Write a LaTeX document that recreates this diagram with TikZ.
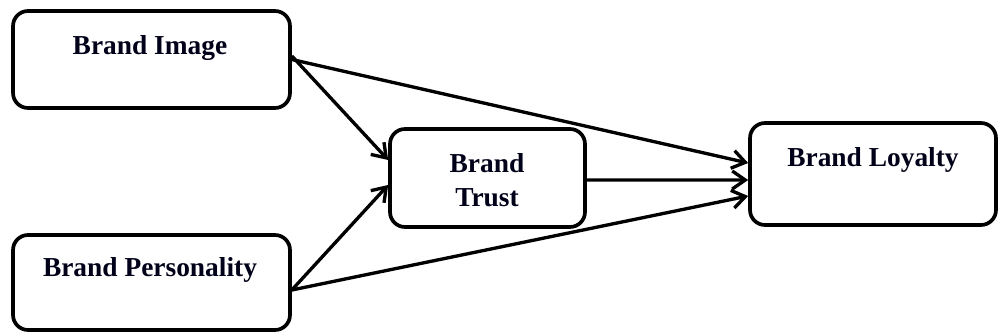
\documentclass[tikz,border=0pt]{standalone}
\usepackage{fontspec}
\setmainfont{Liberation Serif}
\usetikzlibrary{arrows.meta}
\tikzset{
  box/.style={draw=black, line width=2.1pt, rounded corners=0.3cm, fill=white, inner sep=0pt},
  lbl/.style={font=\fontsize{15.6pt}{20.5pt}\selectfont\bfseries, text=black!90!blue, inner sep=0pt, align=center},
  conn/.style={line width=1.9pt, -{Straight Barb[length=0.26cm, width=0.36cm, line width=1.9pt]}}
}
\begin{document}
\begin{tikzpicture}[x=0.02cm, y=-0.02cm]
\useasboundingbox (0,0) rectangle (998,334);
\node[box, minimum width=5.54cm, minimum height=1.94cm] (img) at (151.5,59.5) {};
\node[lbl] (imgt) at (150,48) {Brand Image};
\node[box, minimum width=5.54cm, minimum height=1.9cm] (per) at (151.5,282.5) {};
\node[lbl] (pert) at (150,270) {Brand Personality};
\node[box, minimum width=3.9cm, minimum height=1.96cm] (tru) at (487.5,178) {};
\node[lbl] (trut) at (487,180) {Brand\\[-1pt]Trust};
\node[box, minimum width=4.92cm, minimum height=2.04cm] (loy) at (873,174) {};
\node[lbl] (loyt) at (873,160) {Brand Loyalty};
% connectors
\draw[conn] ([yshift=2pt]img.east) -- ([yshift=3.6mm]tru.west);
\draw[conn] ([yshift=0pt]img.east) -- ([yshift=2.2mm]loy.west);
\draw[conn] ([yshift=-1.5mm]per.east) -- ([yshift=-1.4mm]tru.west);
\draw[conn] ([yshift=-1.5mm]per.east) -- ([yshift=-4.4mm]loy.west);
\draw[conn] ([yshift=-0.4mm]tru.east) -- ([yshift=-1.2mm]loy.west);
\end{tikzpicture}
\end{document}
